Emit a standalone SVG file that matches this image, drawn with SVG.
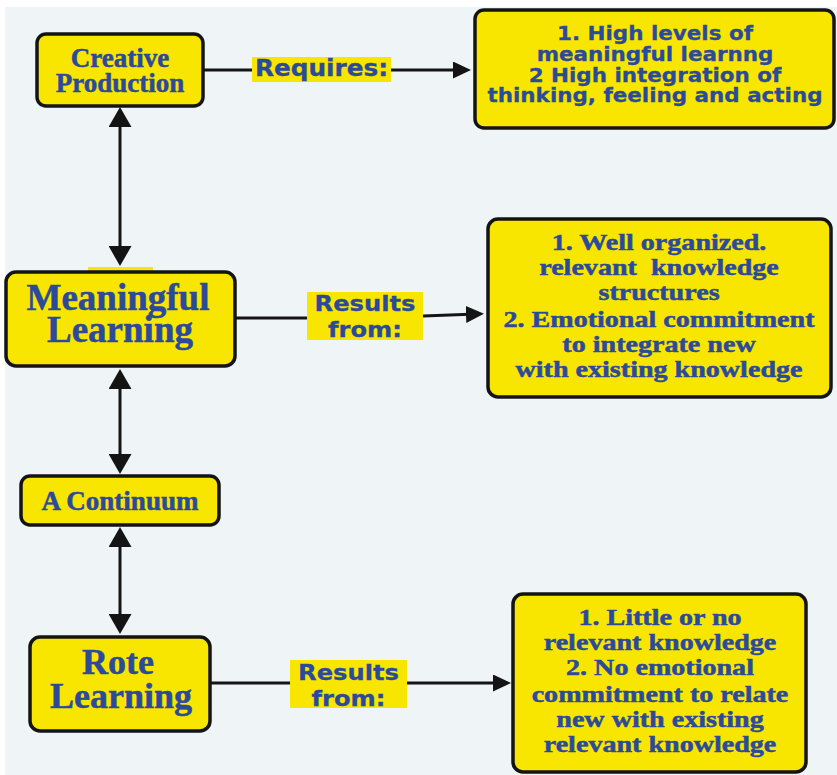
<svg xmlns="http://www.w3.org/2000/svg" width="837" height="775" viewBox="0 0 837 775">
<style>
.box{fill:#f8e600;stroke:#141414;stroke-width:3.5}
.hl{fill:#f8e600}
.serif{font-family:"Liberation Serif","Times New Roman",serif;font-weight:bold;fill:#2c4a9b;stroke:#2c4a9b;stroke-width:0.5;text-anchor:middle}
.sans{font-family:"DejaVu Sans",Verdana,sans-serif;font-weight:bold;fill:#2c4a9b;stroke:#2c4a9b;stroke-width:0.3;text-anchor:middle}
.ln{stroke:#141414;stroke-width:3;fill:none}
</style>
<defs>
<marker id="av" viewBox="0 0 20 23" refX="4" refY="11.5" markerWidth="20" markerHeight="23" markerUnits="userSpaceOnUse" orient="auto-start-reverse">
<path d="M0,0 L20,11.5 L0,23 z" fill="#141414"/>
</marker>
<marker id="ah" viewBox="0 0 18 17" refX="4" refY="8.5" markerWidth="18" markerHeight="17" markerUnits="userSpaceOnUse" orient="auto">
<path d="M0,0 L18,8.5 L0,17 z" fill="#141414"/>
</marker>
</defs>
<rect x="0" y="0" width="837" height="775" fill="#ffffff"/>
<rect x="5" y="7" width="832" height="768" fill="#eff5f7"/>

<g id="connectors">
<line class="ln" x1="120" y1="123" x2="120" y2="250" marker-start="url(#av)" marker-end="url(#av)"/>
<line class="ln" x1="120" y1="385" x2="120" y2="458" marker-start="url(#av)" marker-end="url(#av)"/>
<line class="ln" x1="120" y1="543" x2="120" y2="618" marker-start="url(#av)" marker-end="url(#av)"/>
<line class="ln" x1="203" y1="70" x2="253" y2="70"/>
<line class="ln" x1="391" y1="70" x2="457" y2="70" marker-end="url(#ah)"/>
<line class="ln" x1="235" y1="318" x2="307" y2="318"/>
<line class="ln" x1="423" y1="316" x2="470" y2="314.3" marker-end="url(#ah)"/>
<line class="ln" x1="211" y1="683" x2="290" y2="683"/>
<line class="ln" x1="407" y1="683" x2="497" y2="683" marker-end="url(#ah)"/>
</g>

<g id="label-requires">
<rect class="hl" x="252" y="57" width="139" height="25"/>
<text class="sans" font-size="22.5" transform="translate(321.5,76) scale(1.1,1)" x="0" y="0">Requires:</text>
</g>
<g id="label-results-1">
<rect class="hl" x="307" y="292" width="116" height="48"/>
<text class="sans" font-size="22" transform="translate(365,0) scale(1.1,1)"><tspan x="0" y="311">Results</tspan><tspan x="0" y="337">from:</tspan></text>
</g>
<g id="label-results-2">
<rect class="hl" x="290" y="660" width="117" height="48"/>
<text class="sans" font-size="22" transform="translate(348.5,0) scale(1.1,1)"><tspan x="0" y="680">Results</tspan><tspan x="0" y="706">from:</tspan></text>
</g>

<g id="creative-production">
<rect class="box" x="37" y="34" width="166" height="72" rx="9"/>
<text class="serif" font-size="27"><tspan x="120" y="67">Creative</tspan><tspan x="120" y="92">Production</tspan></text>
</g>

<g id="requires-box">
<rect class="box" x="475" y="10" width="359" height="118" rx="9"/>
<text class="sans" font-size="19.5" transform="translate(655,0) scale(1.1,1)"><tspan x="0" y="40">1. High levels of</tspan><tspan x="0" y="61">meaningful learnng</tspan><tspan x="0" y="82">2 High integration of</tspan><tspan x="0" y="102">thinking, feeling and acting</tspan></text>
</g>

<g id="meaningful-learning">
<rect class="hl" x="88" y="267" width="65" height="6"/>
<rect class="box" x="6" y="272" width="229" height="94" rx="10"/>
<text class="serif" font-size="37"><tspan x="118" y="310">Meaningful</tspan><tspan x="120" y="342">Learning</tspan></text>
</g>

<g id="meaningful-results-box">
<rect class="box" x="488" y="219" width="343" height="178" rx="10"/>
<text class="serif" font-size="24" transform="translate(659,0) scale(1.17,1)" xml:space="preserve"><tspan x="0" y="250">1. Well organized.</tspan><tspan x="0" y="275">relevant  knowledge</tspan><tspan x="0" y="300">structures</tspan><tspan x="0" y="327">2. Emotional commitment</tspan><tspan x="0" y="352">to integrate new</tspan><tspan x="0" y="377">with existing knowledge</tspan></text>
</g>

<g id="continuum">
<rect class="box" x="21" y="476" width="198" height="49" rx="9"/>
<text class="serif" font-size="27" x="120" y="510">A Continuum</text>
</g>

<g id="rote-learning">
<rect class="box" x="30" y="637" width="180" height="94" rx="10"/>
<text class="serif" font-size="36"><tspan x="118" y="674">Rote</tspan><tspan x="121" y="708">Learning</tspan></text>
</g>

<g id="rote-results-box">
<rect class="box" x="513" y="594" width="293" height="178" rx="10"/>
<text class="serif" font-size="24" transform="translate(660,0) scale(1.17,1)"><tspan x="0" y="625">1. Little or no</tspan><tspan x="0" y="650">relevant knowledge</tspan><tspan x="0" y="675">2. No emotional</tspan><tspan x="0" y="702">commitment to relate</tspan><tspan x="0" y="727">new with existing</tspan><tspan x="0" y="752">relevant knowledge</tspan></text>
</g>
</svg>
